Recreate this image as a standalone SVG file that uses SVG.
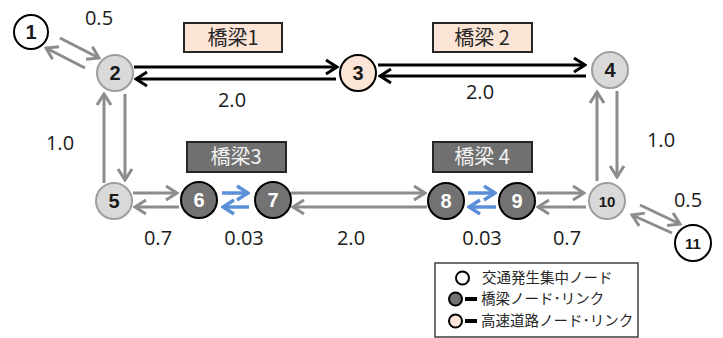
<svg xmlns="http://www.w3.org/2000/svg" width="723" height="338" viewBox="0 0 723 338">
<style>
.num{font-family:"Open Sans","Liberation Sans",sans-serif;font-size:20px;fill:#1a1a1a;text-anchor:middle}
.nl{font-family:"Liberation Sans",Arial,sans-serif;font-weight:bold;font-size:20px;text-anchor:middle;fill:#1a1a1a}
.nls{font-size:15px}
.wn{fill:#fff;stroke:#000;stroke-width:2}
.gn{fill:#d9d9d9;stroke:#9e9e9e;stroke-width:2}
.pn{fill:#fce4d6;stroke:#000;stroke-width:2}
.dn{fill:#727272;stroke:#000;stroke-width:2}
.wt{fill:#fff}
.jp{font-family:"Noto Sans CJK JP","Noto Sans",sans-serif;font-size:20px;text-anchor:middle}
.lg{font-family:"Noto Sans CJK JP","Noto Sans",sans-serif;font-size:14.5px;fill:#262626}
.bk{stroke:#000;stroke-width:3;fill:none;marker-end:url(#ab)}
.gy{stroke:#8c8c8c;stroke-width:3;fill:none;marker-end:url(#ag)}
.bl{stroke:#5b8fd8;stroke-width:3.5;fill:none;marker-end:url(#abl)}
</style>
<defs>
<marker id="ab" viewBox="-14 -10 16 20" refX="0" refY="0" markerWidth="16" markerHeight="20" markerUnits="userSpaceOnUse" orient="auto"><path d="M-11,-7 L0,0 L-11,7" fill="none" stroke="#000" stroke-width="3"/></marker>
<marker id="ag" viewBox="-14 -10 16 20" refX="0" refY="0" markerWidth="16" markerHeight="20" markerUnits="userSpaceOnUse" orient="auto"><path d="M-11,-7 L0,0 L-11,7" fill="none" stroke="#8c8c8c" stroke-width="3"/></marker>
<marker id="abl" viewBox="-14 -10 16 20" refX="0" refY="0" markerWidth="16" markerHeight="20" markerUnits="userSpaceOnUse" orient="auto"><path d="M-11,-7 L0,0 L-11,7" fill="none" stroke="#5b8fd8" stroke-width="3.5"/></marker>
</defs>
<rect width="723" height="338" fill="#fff"/>

<g id="connectors">
<line class="gy" x1="60" y1="38" x2="99" y2="58"/>
<line class="gy" x1="85" y1="68" x2="46" y2="48"/>
<line class="bk" x1="134" y1="67" x2="337" y2="67"/>
<line class="bk" x1="336" y1="79" x2="136" y2="79"/>
<line class="bk" x1="378" y1="65" x2="585" y2="65"/>
<line class="bk" x1="586" y1="76" x2="380" y2="76"/>
<line class="gy" x1="104" y1="183" x2="104" y2="94"/>
<line class="gy" x1="125" y1="94" x2="125" y2="180"/>
<line class="gy" x1="597" y1="181" x2="597" y2="92"/>
<line class="gy" x1="617" y1="91" x2="617" y2="177"/>
<line class="gy" x1="133" y1="193" x2="177" y2="193"/>
<line class="gy" x1="179" y1="207" x2="135" y2="207"/>
<line class="bl" x1="222" y1="193" x2="248" y2="193"/>
<line class="bl" x1="249" y1="207" x2="223" y2="207"/>
<line class="gy" x1="291" y1="193" x2="425" y2="193"/>
<line class="gy" x1="427" y1="207" x2="293" y2="207"/>
<line class="bl" x1="468" y1="193" x2="495" y2="193"/>
<line class="bl" x1="496" y1="207" x2="469" y2="207"/>
<line class="gy" x1="537" y1="193" x2="584" y2="193"/>
<line class="gy" x1="586" y1="207" x2="538" y2="207"/>
<line class="gy" x1="640" y1="205" x2="680" y2="224"/>
<line class="gy" x1="672" y1="233" x2="632" y2="215"/>
</g>

<g id="labels">
<text class="num" x="99" y="25">0.5</text>
<text class="num" x="232" y="107">2.0</text>
<text class="num" x="480" y="99">2.0</text>
<text class="num" x="60" y="150">1.0</text>
<text class="num" x="661" y="147">1.0</text>
<text class="num" x="688" y="207">0.5</text>
<text class="num" x="158" y="245">0.7</text>
<text class="num" x="244" y="245">0.03</text>
<text class="num" x="351" y="245">2.0</text>
<text class="num" x="482" y="245">0.03</text>
<text class="num" x="567" y="245">0.7</text>
</g>

<g id="bridge1"><rect x="184" y="23" width="98" height="29" fill="#fce4d6" stroke="#262626" stroke-width="2"/><text class="jp" x="233" y="44.5" fill="#262626">橋梁1</text></g>
<g id="bridge2"><rect x="433" y="23" width="99" height="29" fill="#fce4d6" stroke="#262626" stroke-width="2"/><text class="jp" x="482" y="44.5" fill="#262626">橋梁 2</text></g>
<g id="bridge3"><rect x="187" y="142" width="99" height="30" fill="#707070" stroke="#262626" stroke-width="2"/><text class="jp" x="236" y="164" fill="#f2f2f2">橋梁3</text></g>
<g id="bridge4"><rect x="433" y="142" width="99" height="30" fill="#707070" stroke="#262626" stroke-width="2"/><text class="jp" x="482" y="164" fill="#f2f2f2">橋梁 4</text></g>

<g id="n1"><circle class="wn" cx="31" cy="32" r="17"/><text class="nl" x="31" y="39">1</text></g>
<g id="n2"><circle class="gn" cx="115" cy="73" r="18"/><text class="nl" x="115" y="80">2</text></g>
<g id="n3"><circle class="pn" cx="358" cy="73" r="18"/><text class="nl" x="358" y="80">3</text></g>
<g id="n4"><circle class="gn" cx="610" cy="70" r="18"/><text class="nl" x="610" y="77">4</text></g>
<g id="n5"><circle class="gn" cx="114" cy="201" r="18"/><text class="nl" x="114" y="208">5</text></g>
<g id="n6"><circle class="dn" cx="199" cy="200" r="18"/><text class="nl wt" x="199" y="207">6</text></g>
<g id="n7"><circle class="dn" cx="273" cy="200" r="18"/><text class="nl wt" x="273" y="207">7</text></g>
<g id="n8"><circle class="dn" cx="446" cy="201" r="18"/><text class="nl wt" x="446" y="208">8</text></g>
<g id="n9"><circle class="dn" cx="517" cy="201" r="18"/><text class="nl wt" x="517" y="208">9</text></g>
<g id="n10"><circle class="gn" cx="607" cy="201" r="18"/><text class="nl nls" x="607" y="206.5">10</text></g>
<g id="n11"><circle class="wn" cx="693" cy="243" r="18"/><text class="nl nls" x="693" y="248.5">11</text></g>

<g id="legend">
<rect x="435" y="263" width="203" height="74" fill="#fff" stroke="#404040" stroke-width="1.5"/>
<circle cx="462.5" cy="278" r="6.5" fill="#fff" stroke="#000" stroke-width="2"/>
<text class="lg" x="482" y="283">交通発生集中ノード</text>
<circle cx="455.5" cy="299" r="6.5" fill="#727272" stroke="#000" stroke-width="2"/>
<rect x="465" y="297" width="12" height="4" fill="#000"/>
<text class="lg" x="481" y="304">橋梁ノード･リンク</text>
<circle cx="455.5" cy="321" r="6.5" fill="#fce4d6" stroke="#000" stroke-width="2"/>
<rect x="465" y="319" width="12" height="4" fill="#000"/>
<text class="lg" x="481" y="326">高速道路ノード･リンク</text>
</g>
</svg>
